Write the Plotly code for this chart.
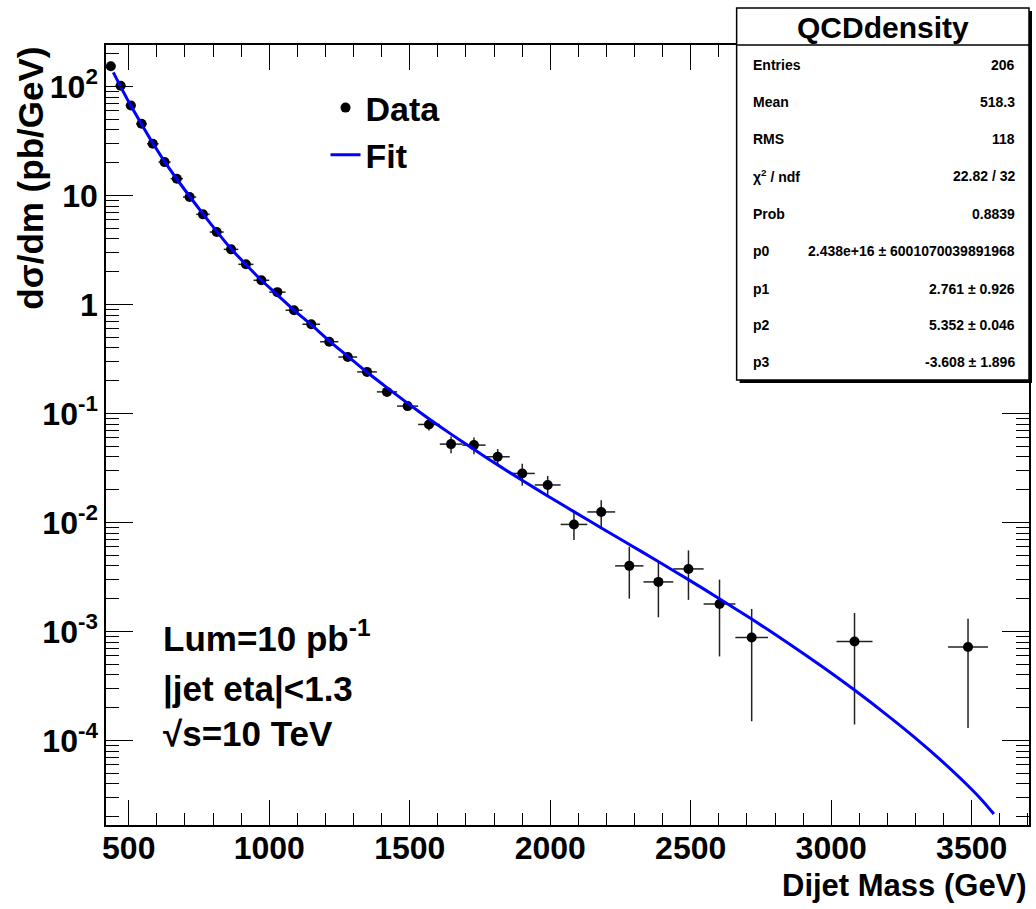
import plotly.graph_objects as go

# ---------------- data ----------------
bin_lo = [419, 453, 489, 526, 565, 606, 649, 693, 740, 788,
          838, 890, 944, 1000, 1058, 1118, 1181, 1246, 1313, 1383,
          1455, 1530, 1607, 1687, 1770, 1856, 1945, 2037, 2132, 2231,
          2332, 2438, 2546, 2659, 3019, 3416]
bin_hi = [453, 489, 526, 565, 606, 649, 693, 740, 788, 838,
          890, 944, 1000, 1058, 1118, 1181, 1246, 1313, 1383, 1455,
          1530, 1607, 1687, 1770, 1856, 1945, 2037, 2132, 2231, 2332,
          2438, 2546, 2659, 2775, 3147, 3558]
data_y = [154, 102, 67.1, 45.6, 29.9, 20.3, 14.3, 9.7, 6.73, 4.63,
          3.21, 2.34, 1.67, 1.30, 0.887, 0.66, 0.456, 0.33, 0.241, 0.158,
          0.117, 0.0794, 0.0524, 0.0513, 0.0401, 0.0282, 0.0221, 0.0096, 0.0125, 0.0040,
          0.00285, 0.00375, 0.00179, 0.00088, 0.00081, 0.00072]
data_err = [3.0, 2.0, 1.3, 0.9, 0.6, 0.45, 0.33, 0.24, 0.17, 0.13,
            0.095, 0.075, 0.055, 0.045, 0.033, 0.027, 0.020, 0.016, 0.0135, 0.010,
            0.0090, 0.0095, 0.0093, 0.0090, 0.0071, 0.0064, 0.0047, 0.0027, 0.0035, 0.0020,
            0.0015, 0.0018, 0.0012, 0.00073, 0.00067, 0.00059]

fit_x = [445, 471, 507, 545, 585, 627, 671, 716, 764, 813,
         864, 917, 972, 1029, 1088, 1150, 1213, 1280, 1345, 1419,
         1492, 1568, 1647, 1728, 1813, 1900, 1991, 2084, 2182, 2279,
         2383, 2492, 2602, 2717, 2850, 2970, 3083, 3200, 3300, 3400,
         3496, 3540, 3579]
fit_y = [135, 100, 67, 45.5, 30.5, 20.6, 14.2, 9.9, 6.8, 4.7,
         3.25, 2.33, 1.67, 1.23, 0.89, 0.65, 0.465, 0.335, 0.243, 0.173,
         0.1247, 0.0897, 0.0647, 0.0469, 0.0338, 0.0244, 0.01754, 0.01259, 0.00891, 0.00635,
         0.00441, 0.00299, 0.00200, 0.00130, 0.000773, 0.000472, 0.000290, 0.000170, 0.000105, 0.0000625,
         0.0000364, 0.0000277, 0.0000211]

y_tickvals = [1e-4, 1e-3, 1e-2, 1e-1, 1, 10, 100]
y_ticktext = ["10<sup>-4</sup>", "10<sup>-3</sup>", "10<sup>-2</sup>", "10<sup>-1</sup>", "1", "10", "10<sup>2</sup>"]

stat_labels = ["Entries", "Mean", "RMS", "χ<sup>2</sup> / ndf", "Prob", "p0", "p1", "p2", "p3"]
stat_values = ["206", "518.3", "118", "22.82 / 32", "0.8839",
               "2.438e+16 ± 6001070039891968", "2.761 ± 0.926", "5.352 ± 0.046", "-3.608 ± 1.896"]

# ---------------- layout helpers (pixel -> paper) ----------------
W, H = 1036, 909
L, R, T, B = 106, 1031, 45, 825
PW, PH = R - L, B - T


def px(x):
    return (x - L) / PW


def py(y):
    return (B - y) / PH


FONT = "Liberation Sans, Arial, Helvetica, sans-serif"

xc = [(a + b) / 2 for a, b in zip(bin_lo, bin_hi)]
ex_plus = [b - c for b, c in zip(bin_hi, xc)]
ex_minus = [c - a for a, c in zip(bin_lo, xc)]

fig = go.Figure()
fig.add_trace(go.Scatter(
    x=xc, y=data_y, mode="markers", name="Data",
    marker=dict(color="black", size=10),
    error_y=dict(type="data", array=data_err, color="#222222", thickness=1.5, width=0),
    error_x=dict(type="data", array=ex_plus, arrayminus=ex_minus, color="#222222", thickness=1.5, width=0),
))
fig.add_trace(go.Scatter(
    x=fit_x, y=fit_y, mode="lines", name="Fit",
    line=dict(color="#0000ff", width=3, shape="spline", smoothing=0.6),
))

fig.update_layout(
    width=W, height=H,
    margin=dict(l=L, r=W - R, t=T, b=H - B),
    paper_bgcolor="white", plot_bgcolor="white",
    showlegend=True,
    legend=dict(x=px(326), y=py(79), xanchor="left", yanchor="top",
                font=dict(family=FONT, size=34, color="black", weight="bold"),
                bgcolor="rgba(0,0,0,0)", borderwidth=0),
    font=dict(family=FONT, color="black"),
)

fig.update_xaxes(
    range=[419, 3704], showgrid=False, zeroline=False,
    showline=True, linecolor="black", linewidth=1.5, mirror="allticks",
    ticks="inside", ticklen=25, tickwidth=1.2, tickcolor="black",
    tick0=500, dtick=500, ticklabelstandoff=-6,
    minor=dict(ticks="inside", ticklen=12, dtick=100, tick0=500, tickcolor="black", tickwidth=1),
    tickfont=dict(family=FONT, size=32, color="black", weight="bold"),
)
fig.update_yaxes(
    type="log", range=[-4.776, 2.382], showgrid=False, zeroline=False,
    showline=True, linecolor="black", linewidth=1.5, mirror="allticks",
    ticks="inside", ticklen=27, tickwidth=1.2, tickcolor="black",
    tickvals=y_tickvals, ticktext=y_ticktext,
    minor=dict(ticks="inside", ticklen=13, dtick="D1", tickcolor="black", tickwidth=1),
    tickfont=dict(family=FONT, size=32, color="black", weight="bold"),
)

annotations = []
# axis titles
annotations.append(dict(text="dσ/dm (pb/GeV)", xref="paper", yref="paper",
                        x=px(30), y=1.0, xanchor="center", yanchor="top", textangle=-90,
                        showarrow=False, font=dict(family=FONT, size=35, color="black", weight="bold")))
annotations.append(dict(text="Dijet Mass (GeV)", xref="paper", yref="paper",
                        x=1.0, y=py(885), xanchor="right", yanchor="middle",
                        showarrow=False, font=dict(family=FONT, size=31, color="black", weight="bold")))
# info text
for txt, yy in [("Lum=10 pb<sup>-1</sup>", 636), ("|jet eta|<1.3", 689), ("√s=10 TeV", 733)]:
    annotations.append(dict(text=txt, xref="paper", yref="paper", x=px(161), y=py(yy),
                            xanchor="left", yanchor="middle", showarrow=False,
                            font=dict(family=FONT, size=35, color="black", weight="bold")))

# stats box
bx0, bx1, by0, by1 = 738, 1031, 8, 380
shapes = [
    dict(type="rect", xref="paper", yref="paper", x0=px(bx0 + 3), x1=px(bx1 + 3), y0=py(by1 + 3), y1=py(by0 + 3),
         fillcolor="black", line=dict(width=0), layer="above"),
    dict(type="rect", xref="paper", yref="paper", x0=px(bx0), x1=px(bx1), y0=py(by1), y1=py(by0),
         fillcolor="white", line=dict(color="black", width=1.5), layer="above"),
    dict(type="line", xref="paper", yref="paper", x0=px(bx0), x1=px(bx1), y0=py(45), y1=py(45),
         line=dict(color="black", width=1.5), layer="above"),
]
annotations.append(dict(text="QCDdensity", xref="paper", yref="paper", x=px((bx0 + bx1) / 2), y=py(27),
                        xanchor="center", yanchor="middle", showarrow=False,
                        font=dict(family=FONT, size=30, color="black", weight="bold")))
row_y = [65, 102, 139, 176, 214, 251, 289, 325, 362]
for lab, val, yy in zip(stat_labels, stat_values, row_y):
    annotations.append(dict(text=lab, xref="paper", yref="paper", x=px(752), y=py(yy),
                            xanchor="left", yanchor="middle", showarrow=False,
                            font=dict(family=FONT, size=14, color="black", weight="bold")))
    annotations.append(dict(text=val, xref="paper", yref="paper", x=px(1019), y=py(yy),
                            xanchor="right", yanchor="middle", showarrow=False,
                            font=dict(family=FONT, size=14, color="black", weight="bold")))

fig.update_layout(annotations=annotations, shapes=shapes)
fig.write_html("out.html")
